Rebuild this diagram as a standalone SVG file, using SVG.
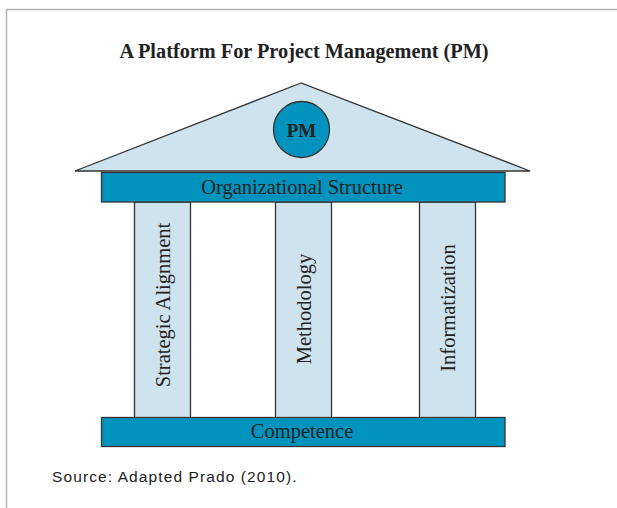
<svg xmlns="http://www.w3.org/2000/svg" width="617" height="508" viewBox="0 0 617 508">
<style>
.frame{fill:none;stroke:#b3b3b3;stroke-width:1.5}
.light{fill:#cfe3ee;stroke:#333;stroke-width:1.3}
.dark{fill:#0093be;stroke:#333;stroke-width:1.3}
.lbl{font-family:"Liberation Serif","Times New Roman",serif;font-size:20.5px;fill:#222;text-anchor:middle}
.bold{font-weight:bold}
</style>
<rect width="617" height="508" fill="#fff"/>
<path class="frame" d="M617 9.5 H6.5 V508"/>
<text x="304" y="57.5" class="lbl bold" style="font-size:20.3px">A Platform For Project Management (PM)</text>
<g id="roof">
<polygon class="light" points="301,83 75,171 530,171"/>
</g>
<g id="pm">
<circle class="dark" cx="301.5" cy="129.5" r="28"/>
<text x="301.5" y="136.5" class="lbl bold" style="font-size:19px">PM</text>
</g>
<g id="pillar-strategic">
<rect class="light" x="134.5" y="202" width="56" height="216"/>
<text class="lbl" transform="translate(169.5,305) rotate(-90)">Strategic Alignment</text>
</g>
<g id="pillar-methodology">
<rect class="light" x="275.5" y="202" width="56" height="216"/>
<text class="lbl" transform="translate(310.5,309) rotate(-90)">Methodology</text>
</g>
<g id="pillar-informatization">
<rect class="light" x="419.5" y="202" width="56" height="216"/>
<text class="lbl" transform="translate(454.5,308) rotate(-90)">Informatization</text>
</g>
<g id="org-structure">
<rect class="dark" x="101.5" y="172.5" width="403.5" height="29.5"/>
<text x="302" y="194" class="lbl">Organizational Structure</text>
</g>
<g id="competence">
<rect class="dark" x="101.5" y="417.5" width="403.5" height="29"/>
<text x="302" y="438" class="lbl">Competence</text>
</g>
<g id="connectors"></g>
<text x="52" y="482" style="font-family:'Liberation Sans',Arial,sans-serif;font-size:15.5px;letter-spacing:1.1px;fill:#222">Source: Adapted Prado (2010).</text>
</svg>
